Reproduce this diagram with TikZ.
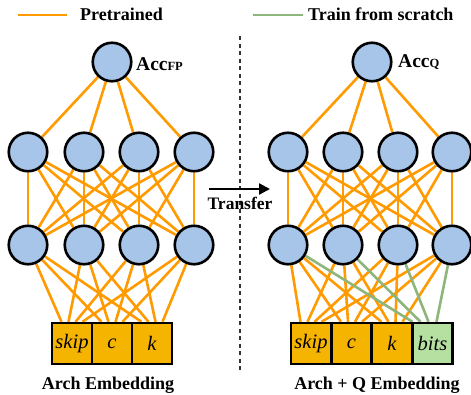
\documentclass[tikz,border=0pt]{standalone}
\usepackage{fontspec}
\setmainfont{Liberation Serif}
\usetikzlibrary{calc,backgrounds,arrows.meta}
\definecolor{lineor}{HTML}{FF9A00}
\definecolor{linegr}{HTML}{8DB57C}
\definecolor{neuron}{HTML}{A7C5E8}
\definecolor{cellor}{HTML}{F5B400}
\definecolor{cellgr}{HTML}{B6E0A2}
\tikzset{
  neu/.style={circle,draw=black,line width=2.6pt,fill=neuron,minimum size=38.5pt,inner sep=0pt},
  cellbox/.style={rectangle,draw=black,line width=2.4pt,fill=cellor,minimum width=40pt,minimum height=41pt,inner sep=0pt,font=\fontsize{20.5}{22}\selectfont\itshape},
  oline/.style={draw=lineor,line width=2.6pt},
  gline/.style={draw=linegr,line width=2.6pt},
  lbl/.style={font=\fontsize{18}{20}\selectfont\bfseries,inner sep=0pt},
  acc/.style={font=\fontsize{19.5}{21}\selectfont\bfseries,inner sep=0pt,anchor=west}
}
\begin{document}
\begin{tikzpicture}[x=1pt,y=-1pt]
\useasboundingbox (0,0) rectangle (471,394);
% legend
\coordinate (lo1) at (18,15); \coordinate (lo2) at (67,15);
\coordinate (lg1) at (253,15); \coordinate (lg2) at (303,15);
\draw[oline] (lo1) -- (lo2);
\draw[gline] (lg1) -- (lg2);
\node[lbl,anchor=west] (legP) at (80,14) {Pretrained};
\node[lbl,anchor=west] (legT) at (308,14) {Train from scratch};
% divider
\coordinate (d1) at (240,36); \coordinate (d2) at (240,370);
\draw[line width=2.4pt,black!80,dash pattern=on 4pt off 3.5pt] (d1) -- (d2);
% transfer
\coordinate (t1) at (209,189); \coordinate (t2) at (270,189);
\draw[line width=2.4pt,-{Triangle[length=11pt,width=11pt]}] (t1) -- (t2);
\node[font=\fontsize{17.5}{19}\selectfont\bfseries,inner sep=0pt] (tr) at (240,203) {Transfer};
% left network
\node[neu] (LT) at (112,62) {};
\node[acc] (accL) at (136,64) {Acc{\fontsize{12.5}{12}\selectfont FP}};
\foreach \i/\x in {1/28,2/84,3/139,4/194}{
  \node[neu] (LM\i) at (\x,152) {};
  \node[neu] (LB\i) at (\x,245) {};
}
\node[cellbox] (Lc1) at (72,343.5) {skip};
\node[cellbox] (Lc2) at (112,343.5) {c};
\node[cellbox] (Lc3) at (152,343.5) {k};
\node[lbl] (labL) at (108,385) {Arch Embedding};
% right network
\node[neu] (RT) at (372,62) {};
\node[acc] (accR) at (398,62) {Acc{\fontsize{12.5}{12}\selectfont Q}};
\foreach \i/\x in {1/288,2/343,3/398,4/452}{
  \node[neu] (RM\i) at (\x,152) {};
  \node[neu] (RB\i) at (\x,245) {};
}
\node[cellbox] (Rc1) at (311,343.5) {skip};
\node[cellbox] (Rc2) at (351.5,343.5) {c};
\node[cellbox] (Rc3) at (392,343.5) {k};
\node[cellbox,fill=cellgr] (Rc4) at (432.5,343.5) {bits};
\node[lbl] (labR) at (377,385) {Arch + Q Embedding};
\begin{scope}[on background layer]
  \foreach \s in {L,R}{
    \foreach \i in {1,2,3,4}{
      \draw[oline] (\s T) -- (\s M\i);
      \foreach \j in {1,2,3,4}{
        \draw[oline] (\s M\i) -- (\s B\j);
      }
      \foreach \c in {1,2,3}{
        \draw[oline] (\s B\i) -- ($(\s c\c.north)+({(\i-2.5)*7},0)$);
      }
    }
  }
  \foreach \i in {1,2,3,4}{
    \draw[gline] (RB\i) -- ($(Rc4.north)+({(\i-2.5)*8-8},0)$);
  }
\end{scope}
\end{tikzpicture}
\end{document}
